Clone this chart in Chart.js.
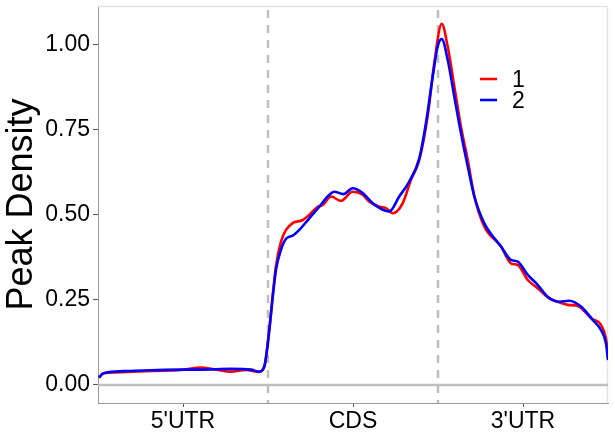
<!DOCTYPE html>
<html><head><meta charset="utf-8">
<script src="https://cdn.jsdelivr.net/npm/chart.js@4.4.1/dist/chart.umd.min.js"></script>
<style>html,body{margin:0;padding:0;background:#fff}#wrap{width:615px;height:439px;position:relative}</style>
</head><body><div id="wrap"><canvas id="c" width="615" height="439"></canvas></div>
<script>
const regionLabels = ["5'UTR", "CDS", "3'UTR"];
const regionTicks = [0.5, 1.5, 2.5];
const regionBoundaries = [1, 2];
const yTicks = [0, 0.25, 0.5, 0.75, 1.0];
const seriesNames = ["1", "2"];
const seriesColors = ["#ff0000", "#0000ff"];

const x1 = [0.006,0.035,0.106,0.312,0.488,0.606,0.694,0.782,0.871,0.947,0.978,1.008,1.028,1.047,1.076,1.106,1.145,1.204,1.253,1.292,1.322,1.371,1.429,1.498,1.557,1.596,1.655,1.694,1.733,1.792,1.841,1.89,1.939,1.978,2.022,2.057,2.096,2.135,2.175,2.214,2.272,2.371,2.429,2.469,2.528,2.586,2.655,2.704,2.763,2.822,2.9,2.969,2.995,3.0];
const y1 = [0.023,0.034,0.037,0.041,0.044,0.051,0.045,0.039,0.044,0.038,0.053,0.167,0.264,0.349,0.42,0.455,0.475,0.484,0.504,0.523,0.528,0.553,0.54,0.567,0.558,0.538,0.523,0.519,0.504,0.533,0.602,0.66,0.788,0.944,1.06,0.993,0.876,0.758,0.66,0.553,0.465,0.406,0.357,0.352,0.308,0.284,0.254,0.244,0.235,0.232,0.196,0.166,0.112,0.08];

const x2 = [0.006,0.024,0.059,0.194,0.312,0.488,0.606,0.782,0.9,0.947,0.978,1.008,1.028,1.047,1.076,1.106,1.145,1.184,1.243,1.302,1.351,1.39,1.443,1.498,1.557,1.616,1.675,1.714,1.772,1.831,1.89,1.929,1.969,1.998,2.022,2.057,2.096,2.135,2.175,2.214,2.272,2.371,2.429,2.469,2.528,2.586,2.645,2.714,2.772,2.841,2.91,2.959,2.988,3.0];
const y2 = [0.021,0.032,0.037,0.041,0.043,0.045,0.045,0.047,0.045,0.039,0.054,0.161,0.259,0.338,0.396,0.429,0.438,0.455,0.489,0.523,0.553,0.567,0.56,0.577,0.563,0.533,0.514,0.509,0.553,0.597,0.665,0.768,0.905,0.993,1.015,0.954,0.846,0.739,0.641,0.553,0.475,0.406,0.367,0.362,0.323,0.294,0.259,0.244,0.247,0.23,0.191,0.161,0.122,0.073];

const seriesX = [x1, x2];
const seriesY = [y1, y2];

const datasets = seriesNames.map((name, i) => ({
  label: name,
  data: seriesX[i].map((x, j) => ({x: x, y: seriesY[i][j]})),
  borderColor: seriesColors[i],
  backgroundColor: seriesColors[i],
  borderWidth: 2.6,
  pointRadius: 0,
  order: seriesNames.length - i,
  cubicInterpolationMode: 'monotone',
  fill: false
}));

const FONT = "'Liberation Sans', Arial, sans-serif";

const decor = {
  id: 'decor',
  beforeDatasetsDraw(chart) {
    const {ctx, chartArea: a, scales: {x, y}} = chart;
    ctx.save();
    ctx.strokeStyle = '#e3e3e3';
    ctx.lineWidth = 1.5;
    ctx.beginPath();
    ctx.moveTo(a.left, a.top + 0.5);
    ctx.lineTo(a.right - 0.5, a.top + 0.5);
    ctx.lineTo(a.right - 0.5, a.bottom);
    ctx.stroke();
    const y0 = y.getPixelForValue(0);
    ctx.strokeStyle = '#bebebe';
    ctx.lineWidth = 2.5;
    ctx.beginPath();
    ctx.moveTo(a.left, y0);
    ctx.lineTo(a.right, y0);
    ctx.stroke();
    ctx.setLineDash([8, 7]);
    ctx.lineWidth = 2.5;
    regionBoundaries.forEach(v => {
      const px = x.getPixelForValue(v);
      ctx.beginPath();
      ctx.moveTo(px, a.top + 4);
      ctx.lineTo(px, a.bottom);
      ctx.stroke();
    });
    ctx.restore();
  },
  afterDraw(chart) {
    const {ctx} = chart;
    ctx.save();
    ctx.font = '23px ' + FONT;
    ctx.textBaseline = 'middle';
    seriesNames.forEach((name, i) => {
      const ly = 79 + i * 21;
      ctx.strokeStyle = seriesColors[i];
      ctx.lineWidth = 2.6;
      ctx.beginPath();
      ctx.moveTo(480, ly);
      ctx.lineTo(497, ly);
      ctx.stroke();
      ctx.fillStyle = '#000';
      ctx.fillText(name, 512, ly + 2);
    });
    ctx.restore();
  }
};

new Chart(document.getElementById('c'), {
  type: 'line',
  data: {datasets},
  options: {
    responsive: false,
    animation: false,
    devicePixelRatio: 1,
    layout: {padding: {top: 6, right: 7, left: 0, bottom: 0}},
    plugins: {legend: {display: false}, tooltip: {enabled: false}},
    scales: {
      x: {
        type: 'linear', min: 0, max: 3,
        afterBuildTicks: s => { s.ticks = regionTicks.map(v => ({value: v})); },
        afterFit: s => { s.height = 36; s.paddingLeft = 0; s.paddingRight = 0; },
        ticks: {
          callback: (v, i) => regionLabels[i],
          font: {family: FONT, size: 23}, color: '#000', padding: 1, maxRotation: 0
        },
        grid: {drawOnChartArea: false, drawTicks: true, tickLength: 4, color: '#555', lineWidth: 1},
        border: {display: true, color: '#999', width: 1}
      },
      y: {
        type: 'linear', min: -0.053, max: 1.112,
        afterBuildTicks: s => { s.ticks = yTicks.map(v => ({value: v})); },
        afterFit: s => { s.width = 98; s.paddingTop = 0; s.paddingBottom = 0; },
        ticks: {
          callback: v => Number(v).toFixed(2),
          font: {family: FONT, size: 23}, color: '#000', padding: 3
        },
        grid: {drawOnChartArea: false, drawTicks: true, tickLength: 5, color: '#555', lineWidth: 1},
        border: {display: true, color: '#999', width: 1},
        title: {display: true, text: 'Peak Density', font: {family: FONT, size: 36}, color: '#000', padding: 0}
      }
    }
  },
  plugins: [decor]
});
</script>
</body></html>
